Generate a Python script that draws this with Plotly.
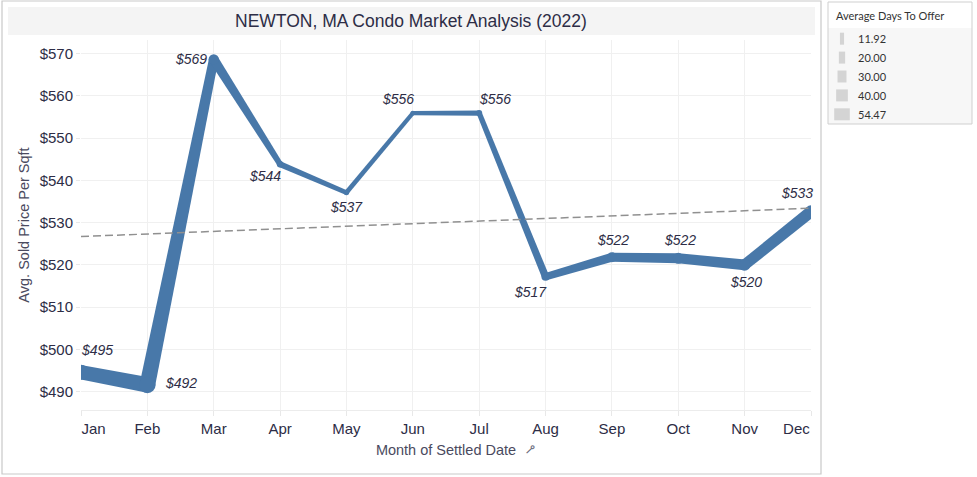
import numpy as np
import plotly.graph_objects as go

# ---------------- data ----------------
months = ["Jan", "Feb", "Mar", "Apr", "May", "Jun", "Jul", "Aug", "Sep", "Oct", "Nov", "Dec"]
price = [494.6, 491.6, 568.6, 543.8, 537.1, 555.9, 555.9, 517.2, 521.8, 521.55, 520.0, 532.6]
days_to_offer = [50.0, 54.47, 32.0, 18.0, 14.0, 11.92, 16.0, 24.0, 30.0, 34.0, 37.0, 40.0]
legend_days = [11.92, 20.00, 30.00, 40.00, 54.47]

# label offsets in px (style, not data)
label_dx = [16, 34, -23, -15, 0, -15, 16, -15, 1, 2, 1, -14]
label_dy = [22, 2, 0, -12, -14, 14, 14, -15, 17, 18, -17, 19]

# ---------------- layout geometry ----------------
W, H = 977, 477
ML, MR, MT, MB = 81, 166, 40, 67
PX0, PX1 = ML, W - MR
PY0, PY1 = MT, H - MB
X_RANGE = [0, 11]
Y_RANGE = [485.67, 573.19]

BLUE = "#4878A9"
NAVY = "#2d2d46"
NBSP = "\u00a0"


def width_px(d):
    return 0.9 + 0.27 * d


def to_px(x, y):
    px = PX0 + (x - X_RANGE[0]) / (X_RANGE[1] - X_RANGE[0]) * (PX1 - PX0)
    py = PY1 - (y - Y_RANGE[0]) / (Y_RANGE[1] - Y_RANGE[0]) * (PY1 - PY0)
    return px, py


def from_px(px, py):
    x = X_RANGE[0] + (px - PX0) / (PX1 - PX0) * (X_RANGE[1] - X_RANGE[0])
    y = Y_RANGE[0] + (PY1 - py) / (PY1 - PY0) * (Y_RANGE[1] - Y_RANGE[0])
    return x, y


def pap_x(px):
    return (px - PX0) / (PX1 - PX0)


def pap_y(py):
    return (PY1 - py) / (PY1 - PY0)


xs = list(range(len(months)))
widths = [width_px(d) for d in days_to_offer]

# edge tick labels are pushed inward like the original (padding only)
tick_text = list(months)
tick_text[0] = NBSP * 6 + months[0]
tick_text[-1] = months[-1] + NBSP * 7

fig = go.Figure()

# tapered segments (size encoded line)
for i in range(len(xs) - 1):
    p0 = np.array(to_px(xs[i], price[i]))
    p1 = np.array(to_px(xs[i + 1], price[i + 1]))
    d = p1 - p0
    n = np.array([-d[1], d[0]]) / np.hypot(*d)
    h0, h1 = widths[i] / 2, widths[i + 1] / 2
    corners = [p0 + n * h0, p1 + n * h1, p1 - n * h1, p0 - n * h0, p0 + n * h0]
    cx, cy = zip(*[from_px(*c) for c in corners])
    fig.add_trace(go.Scatter(x=list(cx), y=list(cy), mode="lines", fill="toself",
                             fillcolor=BLUE, line=dict(width=0, color=BLUE),
                             hoverinfo="skip", showlegend=False))

# round joints / points
fig.add_trace(go.Scatter(x=xs, y=price, mode="markers",
                         marker=dict(size=[w + 0.8 for w in widths], color=BLUE,
                                     opacity=1, line=dict(width=0)),
                         showlegend=False, hoverinfo="x+y"))

# trend line
slope, intercept = np.polyfit(xs, price, 1)
fig.add_trace(go.Scatter(x=[X_RANGE[0], X_RANGE[1]],
                         y=[intercept + slope * X_RANGE[0], intercept + slope * X_RANGE[1]],
                         mode="lines", line=dict(color="#909090", width=1.5, dash="8px,4px"),
                         showlegend=False, hoverinfo="skip"))

annotations = []
for i, v in enumerate(price):
    annotations.append(dict(x=xs[i], y=v, xref="x", yref="y", text="$%d" % int(v + 0.5),
                            showarrow=False, xshift=label_dx[i], yshift=label_dy[i],
                            font=dict(family="Arial", size=14, color=NAVY, style="italic"),
                            xanchor="center", yanchor="middle"))

shapes = []
# outer frame
shapes.append(dict(type="rect", xref="paper", yref="paper", x0=pap_x(2), x1=pap_x(821),
                   y0=pap_y(474), y1=pap_y(1), line=dict(color="#c9c9c9", width=1.2),
                   fillcolor="rgba(0,0,0,0)", layer="below"))
# title band
shapes.append(dict(type="rect", xref="paper", yref="paper", x0=pap_x(8), x1=pap_x(815),
                   y0=pap_y(35), y1=pap_y(7), line=dict(width=0), fillcolor="#f4f4f4", layer="below"))
annotations.append(dict(xref="paper", yref="paper", x=pap_x(411), y=pap_y(21),
                        text="NEWTON, MA Condo Market Analysis (2022)", showarrow=False,
                        font=dict(family="Arial", size=17.5, color=NAVY),
                        xanchor="center", yanchor="middle"))

# legend box
shapes.append(dict(type="rect", xref="paper", yref="paper", x0=pap_x(828), x1=pap_x(972),
                   y0=pap_y(124), y1=pap_y(28), line=dict(width=0), fillcolor="#f7f7f7", layer="below"))
shapes.append(dict(type="rect", xref="paper", yref="paper", x0=pap_x(828), x1=pap_x(972),
                   y0=pap_y(124), y1=pap_y(2), line=dict(color="#cfcfcf", width=1),
                   fillcolor="rgba(0,0,0,0)", layer="below"))
annotations.append(dict(xref="paper", yref="paper", x=pap_x(834), y=pap_y(15),
                        text="Average Days To Offer", showarrow=False,
                        font=dict(family="Lato", size=11, color="#333333"),
                        xanchor="left", yanchor="middle"))
for k, dv in enumerate(legend_days):
    cy = 38.7 + k * 18.9
    w = width_px(dv)
    shapes.append(dict(type="rect", xref="paper", yref="paper",
                       x0=pap_x(842 - w / 2), x1=pap_x(842 + w / 2),
                       y0=pap_y(cy + 6), y1=pap_y(cy - 6), line=dict(width=0),
                       fillcolor="#d4d4d4", layer="below"))
    annotations.append(dict(xref="paper", yref="paper", x=pap_x(856), y=pap_y(cy),
                            text="%.2f" % dv, showarrow=False,
                            font=dict(family="Lato", size=11, color="#333333"),
                            xanchor="left", yanchor="middle"))

# pin icon next to x title
annotations.append(dict(xref="paper", yref="paper", x=pap_x(530), y=pap_y(449),
                        text="⊸", showarrow=False, textangle=-45,
                        font=dict(family="DejaVu Sans", size=14, color="#6e6e80"),
                        xanchor="center", yanchor="middle"))

fig.update_layout(
    width=W, height=H,
    margin=dict(l=ML, r=MR, t=MT, b=MB, autoexpand=False),
    paper_bgcolor="white", plot_bgcolor="white",
    showlegend=False,
    shapes=shapes, annotations=annotations,
    font=dict(family="Arial", color=NAVY),
)
fig.update_xaxes(range=X_RANGE, tickmode="array", tickvals=xs, ticktext=tick_text,
                 showgrid=True, gridcolor="#f0f0f0", gridwidth=1, zeroline=False,
                 ticks="outside", ticklen=5, tickcolor="#e8e8e8",
                 showline=True, linecolor="#ececec", linewidth=1,
                 tickfont=dict(family="Arial", size=15, color=NAVY),
                 title=dict(text="Month of Settled Date", standoff=8,
                            font=dict(family="Arial", size=14.5, color="#4a4a5e")),
                 automargin=False, fixedrange=True)
fig.update_yaxes(range=Y_RANGE, tickmode="array", tickvals=list(range(490, 571, 10)),
                 ticktext=["$%d" % v for v in range(490, 571, 10)],
                 showgrid=True, gridcolor="#f0f0f0", gridwidth=1, zeroline=False,
                 ticks="outside", ticklen=4, tickcolor="#e8e8e8",
                 tickfont=dict(family="Arial", size=15, color=NAVY),
                 title=dict(text="Avg. Sold Price Per Sqft", standoff=6,
                            font=dict(family="Arial", size=14.5, color="#4a4a5e")),
                 automargin=False, fixedrange=True)

fig.write_html("out.html", config={"displayModeBar": False},
               post_script="document.body.style.margin='0px';")
